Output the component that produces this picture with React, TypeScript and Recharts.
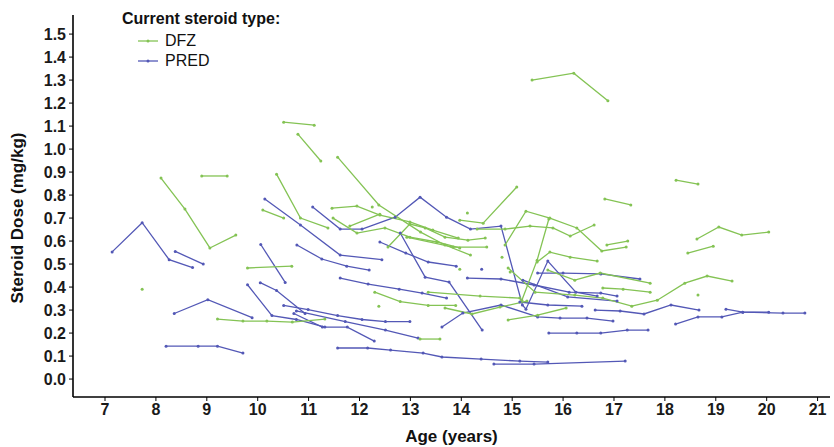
import React from 'react';
import { LineChart, Line, XAxis, YAxis } from 'recharts';

type Pt = [number, number]; // [age (years), dose (mg/kg)]

const xTicks = [7, 8, 9, 10, 11, 12, 13, 14, 15, 16, 17, 18, 19, 20, 21];
const yTicks = [0, 0.1, 0.2, 0.3, 0.4, 0.5, 0.6, 0.7, 0.8, 0.9, 1.0, 1.1, 1.2, 1.3, 1.4, 1.5];
const legendItems = ['DFZ', 'PRED'];

const dfzSeries: Pt[][] = [
  [[15.39, 1.3], [16.21, 1.33], [16.88, 1.21]],
  [[10.51, 1.117], [11.11, 1.104]],
  [[10.79, 1.065], [11.24, 0.948]],
  [[8.9, 0.883], [9.4, 0.883]],
  [[8.1, 0.874], [8.57, 0.739], [9.06, 0.57], [9.57, 0.626]],
  [[10.37, 0.891], [10.84, 0.7], [11.38, 0.657]],
  [[10.1, 0.735], [10.51, 0.7]],
  [[9.8, 0.483], [10.67, 0.491]],
  [[7.73, 0.391]],
  [[9.21, 0.261], [9.71, 0.252], [10.18, 0.252], [10.68, 0.248], [11.32, 0.261]],
  [[11.57, 0.965], [12.38, 0.757], [13.2, 0.639], [13.68, 0.583], [14.18, 0.539]],
  [[11.46, 0.743], [11.95, 0.752], [12.4, 0.713], [12.99, 0.683], [13.44, 0.648], [13.94, 0.613]],
  [[11.48, 0.7], [11.95, 0.635], [12.5, 0.657], [12.99, 0.617], [13.52, 0.596], [13.97, 0.57]],
  [[11.81, 0.665], [12.4, 0.717]],
  [[12.56, 0.574], [12.99, 0.674], [13.29, 0.657], [13.68, 0.617], [14.13, 0.604], [14.47, 0.613]],
  [[12.93, 0.617], [13.84, 0.574], [14.5, 0.574]],
  [[13.97, 0.691], [14.43, 0.678], [15.09, 0.835]],
  [[14.86, 0.583], [15.27, 0.73], [15.74, 0.7], [16.27, 0.657], [16.76, 0.557], [17.24, 0.574]],
  [[16.86, 0.583], [17.27, 0.6]],
  [[14.31, 0.652], [14.86, 0.652], [15.35, 0.665], [15.8, 0.657], [16.14, 0.622], [16.61, 0.67]],
  [[15.19, 0.343], [15.49, 0.517], [15.72, 0.696]],
  [[15.49, 0.509], [15.74, 0.552], [16.14, 0.53], [16.67, 0.513]],
  [[15.7, 0.474], [16.23, 0.43], [16.73, 0.461], [17.71, 0.417]],
  [[14.92, 0.483], [15.45, 0.378], [16.23, 0.365], [16.78, 0.352], [17.35, 0.317], [17.85, 0.343], [18.39, 0.417], [18.83, 0.448], [19.32, 0.426]],
  [[16.78, 0.396], [17.18, 0.391], [17.71, 0.378]],
  [[18.63, 0.609], [19.06, 0.661], [19.51, 0.626], [20.04, 0.639]],
  [[18.45, 0.548], [18.95, 0.578]],
  [[18.22, 0.865], [18.65, 0.848]],
  [[16.82, 0.783], [17.33, 0.757]],
  [[18.65, 0.365]],
  [[14.92, 0.257], [15.5, 0.278], [16.06, 0.309]],
  [[12.3, 0.378], [12.8, 0.337], [13.35, 0.32], [13.89, 0.32]],
  [[13.35, 0.378], [14.37, 0.361], [15.15, 0.352]],
  [[13.68, 0.309], [14.21, 0.283], [14.76, 0.313], [15.29, 0.339]],
  [[13.19, 0.174], [13.58, 0.174]],
  [[12.38, 0.317]],
  [[12.25, 0.748]],
  [[14.12, 0.722]],
  [[13.97, 0.478]],
  [[14.8, 0.53]],
  [[14.96, 0.465]],
];

const predSeries: Pt[][] = [
  [[7.14, 0.553], [7.73, 0.68], [8.26, 0.519], [8.72, 0.485]],
  [[8.38, 0.555], [8.93, 0.5]],
  [[8.36, 0.285], [9.02, 0.345], [9.89, 0.267]],
  [[8.2, 0.143], [8.83, 0.143], [9.21, 0.143], [9.71, 0.113]],
  [[10.06, 0.585], [10.54, 0.42]],
  [[10.14, 0.783], [10.84, 0.67], [11.62, 0.539], [12.44, 0.519]],
  [[10.05, 0.419], [10.37, 0.385], [10.93, 0.285]],
  [[9.8, 0.41], [10.28, 0.276], [10.76, 0.259], [11.32, 0.226]],
  [[10.51, 0.32], [10.99, 0.302], [11.57, 0.276], [12.05, 0.259], [12.51, 0.25], [12.99, 0.25]],
  [[10.71, 0.285], [11.27, 0.226], [11.76, 0.226], [12.29, 0.165]],
  [[11.57, 0.135], [12.16, 0.135], [12.61, 0.126], [13.25, 0.113], [13.62, 0.096], [14.39, 0.087], [15.15, 0.078], [15.7, 0.074]],
  [[14.64, 0.065], [15.43, 0.065], [17.22, 0.078]],
  [[11.08, 0.748], [11.62, 0.652], [12.05, 0.652], [12.7, 0.704], [13.19, 0.791], [13.71, 0.704], [14.18, 0.652], [14.78, 0.665], [15.2, 0.322], [15.27, 0.304], [15.7, 0.513], [16.25, 0.378], [16.67, 0.361]],
  [[12.4, 0.596], [12.91, 0.548], [13.35, 0.509], [13.9, 0.491]],
  [[12.8, 0.635], [13.29, 0.443], [13.76, 0.422], [14.41, 0.213]],
  [[11.62, 0.439], [12.17, 0.413], [12.78, 0.391], [13.23, 0.374], [13.71, 0.352]],
  [[10.77, 0.583], [11.26, 0.522], [11.75, 0.491], [12.19, 0.474]],
  [[10.76, 0.296], [11.72, 0.25], [12.51, 0.213], [13.15, 0.178]],
  [[13.62, 0.226], [14.03, 0.287], [14.78, 0.322], [15.5, 0.27], [15.94, 0.265], [16.47, 0.265], [16.98, 0.252]],
  [[14.12, 0.439], [14.78, 0.435], [15.43, 0.409], [16.12, 0.378], [16.74, 0.374], [17.06, 0.361]],
  [[15.21, 0.43], [16.09, 0.357], [17.06, 0.339]],
  [[15.5, 0.461], [16.0, 0.461], [16.74, 0.457], [17.51, 0.435]],
  [[15.15, 0.335], [15.7, 0.322], [16.37, 0.317]],
  [[16.63, 0.3], [17.12, 0.296], [17.59, 0.283], [18.12, 0.322], [18.67, 0.3]],
  [[18.21, 0.239], [18.65, 0.27], [19.12, 0.27], [19.53, 0.291], [20.04, 0.291]],
  [[19.2, 0.304], [19.53, 0.291], [20.32, 0.287], [20.75, 0.287]],
  [[15.72, 0.2], [16.27, 0.2], [16.74, 0.2], [17.26, 0.213], [17.67, 0.213]],
  [[14.4, 0.478]],
];

const GREEN = '#84c354';
const BLUE = '#5358b6';
const FONT = '"Liberation Sans", Arial, sans-serif';

const toData = (s: Pt[]) => s.map(([age, dose]) => ({ age, dose }));

export default function App() {
  const tickStyle = { fill: '#1a1a1a', fontSize: 16, fontWeight: 'bold' as const, fontFamily: FONT };
  return (
    <div style={{ position: 'absolute', left: 0, top: 0, width: 834, height: 447, background: '#fff', fontFamily: FONT }}>
      <LineChart width={834} height={447} margin={{ top: 15, right: 4, bottom: 0, left: 0 }}>
        <XAxis
          dataKey="age"
          type="number"
          domain={[6.371, 21.244]}
          ticks={xTicks}
          allowDataOverflow
          interval={0}
          height={50}
          axisLine={{ stroke: '#000', strokeWidth: 1.6 }}
          tickLine={{ stroke: '#000', strokeWidth: 1 }}
          tickSize={4}
          tickMargin={3}
          tick={tickStyle}
        />
        <YAxis
          type="number"
          domain={[-0.078, 1.583]}
          ticks={yTicks}
          allowDataOverflow
          interval={0}
          width={73}
          axisLine={{ stroke: '#000', strokeWidth: 1.6 }}
          tickLine={{ stroke: '#000', strokeWidth: 1 }}
          tickSize={4}
          tickMargin={3}
          tick={tickStyle}
          tickFormatter={(v: number) => v.toFixed(1)}
        />
        {predSeries.map((s, i) => (
          <Line
            key={'p' + i}
            data={toData(s)}
            dataKey="dose"
            type="linear"
            stroke={BLUE}
            strokeWidth={1.3}
            dot={{ r: 1.5, fill: BLUE, stroke: BLUE, strokeWidth: 0 }}
            activeDot={false}
            isAnimationActive={false}
          />
        ))}
        {dfzSeries.map((s, i) => (
          <Line
            key={'d' + i}
            data={toData(s)}
            dataKey="dose"
            type="linear"
            stroke={GREEN}
            strokeWidth={1.3}
            dot={{ r: 1.5, fill: GREEN, stroke: GREEN, strokeWidth: 0 }}
            activeDot={false}
            isAnimationActive={false}
          />
        ))}
      </LineChart>

      {/* legend */}
      <div style={{ position: 'absolute', left: 122, top: 10, fontSize: 16, fontWeight: 'bold', color: '#111', lineHeight: '18px', whiteSpace: 'nowrap' }}>
        Current steroid type:
      </div>
      {legendItems.map((name, i) => {
        const c = i === 0 ? GREEN : BLUE;
        return (
          <div key={name} style={{ position: 'absolute', left: 137, top: 31 + i * 20, height: 20, display: 'flex', alignItems: 'center', whiteSpace: 'nowrap' }}>
            <svg width={22} height={20} style={{ display: 'block' }}>
              <line x1={1} y1={10} x2={21} y2={10} stroke={c} strokeWidth={1.3} />
              <circle cx={11} cy={10} r={1.5} fill={c} />
            </svg>
            <span style={{ marginLeft: 6, fontSize: 16, color: '#111', lineHeight: '20px' }}>{name}</span>
          </div>
        );
      })}

      {/* axis titles */}
      <div style={{ position: 'absolute', left: 0, width: 903, top: 427, textAlign: 'center', fontSize: 17, fontWeight: 'bold', color: '#111', lineHeight: '20px' }}>
        Age (years)
      </div>
      <div style={{ position: 'absolute', left: 18, top: 218, width: 0, height: 0 }}>
        <div style={{ position: 'absolute', left: 0, top: 0, transform: 'translate(-50%, -50%) rotate(-90deg)', whiteSpace: 'nowrap', fontSize: 17, fontWeight: 'bold', color: '#111', lineHeight: '20px' }}>
          Steroid Dose (mg/kg)
        </div>
      </div>
    </div>
  );
}
